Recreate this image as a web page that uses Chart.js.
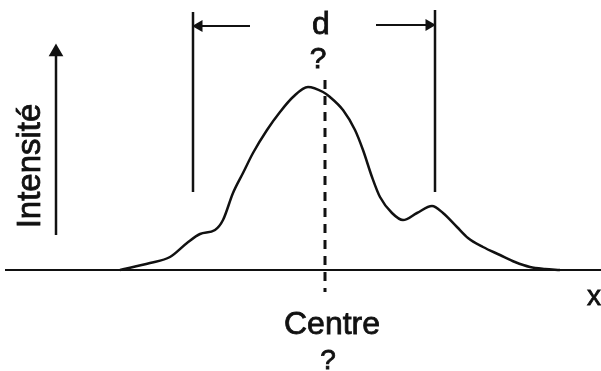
<!DOCTYPE html>
<html>
<head>
<meta charset="utf-8">
<script src="https://cdn.jsdelivr.net/npm/chart.js@4.4.1/dist/chart.umd.min.js"></script>
<style>
  html, body { margin: 0; padding: 0; background: #fff; }
  #wrap { width: 601px; height: 371px; }
</style>
</head>
<body>
<div id="wrap"><canvas id="profile-chart" width="601" height="371"></canvas></div>
<script>
// intensity profile, x position vs intensity above the baseline
var profileX = [120, 150, 170, 187, 200, 215, 223, 233, 243, 253, 267, 280, 293, 308, 323, 330, 343, 355, 363, 372, 380, 392, 403, 417, 432, 443, 457, 468, 483, 500, 515, 530, 545, 560];
var profileY = [0, 7, 13, 27, 36, 40, 50, 77, 97, 117, 140, 158, 173, 183, 178, 173, 160, 140, 120, 93, 73, 57, 50, 57, 64, 57, 43, 32, 23, 15, 8, 3, 1, 0];

var baselineX = [5, 601];
var leftBarX = 193, rightBarX = 435;
var barTop = 258, barBottom = 78;
var centreX = 325;

function pts(xs, ys) {
    var out = [];
    for (var i = 0; i < xs.length; i++) {
        out.push({ x: xs[i], y: ys[i] });
    }
    return out;
}

// labels drawn on top of the chart
var textLabels = [
    { text: 'd', x: 321, y: 245, size: 32 },
    { text: '?', x: 318, y: 210, size: 30 },
    { text: 'Centre', x: 332, y: -55, size: 32 },
    { text: '?', x: 328, y: -91, size: 28 },
    { text: 'x', x: 594, y: -27, size: 28 },
    { text: 'Intensité', x: 31, y: 104, size: 33, rotate: -Math.PI / 2 }
];

var textPlugin = {
    id: 'textPlugin',
    afterDatasetsDraw: function (chart) {
        var ctx = chart.ctx;
        var xs = chart.scales.x, ys = chart.scales.y;
        ctx.save();
        ctx.fillStyle = '#111';
        ctx.strokeStyle = '#111';
        ctx.lineWidth = 0.8;
        ctx.textAlign = 'center';
        ctx.textBaseline = 'middle';
        textLabels.forEach(function (l) {
            ctx.font = l.size + 'px "Liberation Sans", Arial, sans-serif';
            var px = xs.getPixelForValue(l.x), py = ys.getPixelForValue(l.y);
            ctx.save();
            ctx.translate(px, py);
            if (l.rotate) ctx.rotate(l.rotate);
            ctx.fillText(l.text, 0, 0);
            ctx.strokeText(l.text, 0, 0);
            ctx.restore();
        });
        ctx.restore();
    }
};

var black = '#111';
function lineSet(data, width, extra) {
    var ds = {
        data: data,
        borderColor: black,
        backgroundColor: black,
        borderWidth: width,
        pointRadius: 0,
        fill: false,
        tension: 0
    };
    for (var k in (extra || {})) ds[k] = extra[k];
    return ds;
}

var profileChart = new Chart(document.getElementById('profile-chart').getContext('2d'), {
    type: 'line',
    data: {
        datasets: [
            lineSet(pts(baselineX, [0, 0]), 2),
            lineSet(pts(profileX, profileY), 2.5, { tension: 0.4, cubicInterpolationMode: 'monotone' }),
            lineSet(pts([leftBarX, leftBarX], [barTop, barBottom]), 2.5),
            lineSet(pts([rightBarX, rightBarX], [barTop + 2, barBottom]), 2.5),
            lineSet(pts([250, 199], [244, 244]), 2, { pointRadius: [0, 5], pointStyle: 'triangle', pointRotation: -90 }),
            lineSet(pts([376, 429], [245, 245]), 2, { pointRadius: [0, 5], pointStyle: 'triangle', pointRotation: 90 }),
            lineSet(pts([centreX, centreX], [190, -22]), 3, { borderDash: [9, 7] }),
            lineSet(pts([56, 56], [35, 218]), 2.5, { pointRadius: [0, 6], pointStyle: 'triangle', pointRotation: 0 })
        ]
    },
    options: {
        responsive: false,
        animation: false,
        layout: { padding: 0, autoPadding: false },
        plugins: { legend: { display: false }, tooltip: { enabled: false } },
        scales: {
            x: { type: 'linear', min: 0, max: 601, display: false },
            y: { type: 'linear', min: -101, max: 270, display: false }
        }
    },
    plugins: [textPlugin]
});
</script>
</body>
</html>
